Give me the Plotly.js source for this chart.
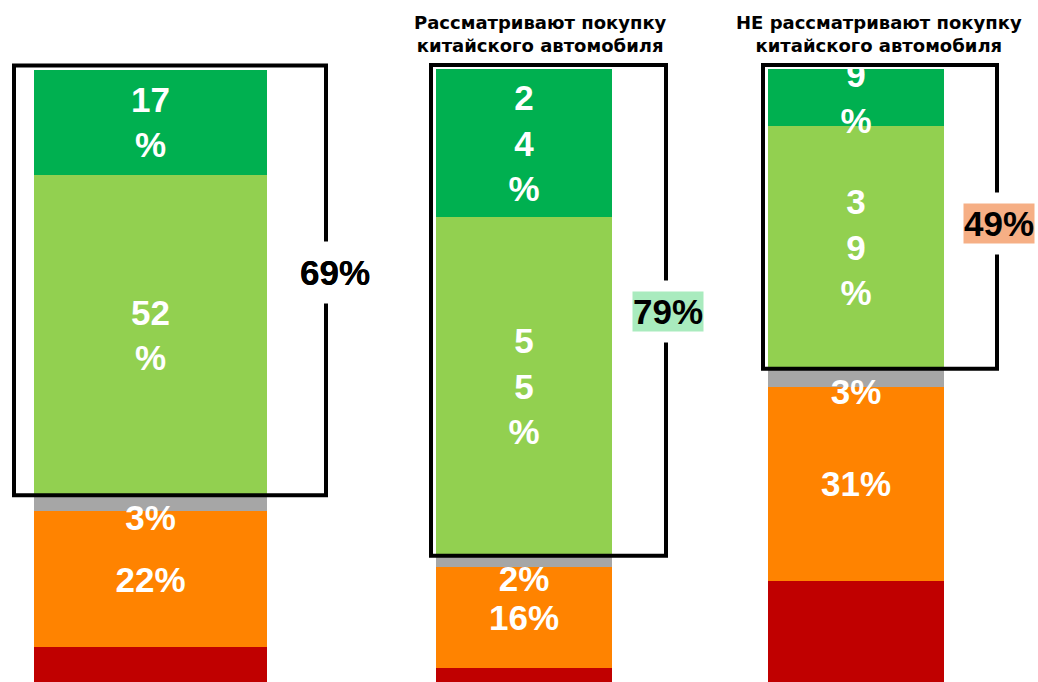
<!DOCTYPE html>
<html>
<head>
<meta charset="utf-8">
<script src="https://cdn.plot.ly/plotly-3.0.1.min.js"></script>
<style>html,body{margin:0;padding:0;background:#fff;}#chart{width:1038px;height:682px;}</style>
</head>
<body>
<div id="chart"></div>
<script>
// ---- data ----
const categories = ['Все', 'Рассматривают', 'НЕ рассматривают'];
const darkGreen = [17.0, 24.0, 9.2];
const lightGreen = [52.0, 54.9, 39.4];
const gray = [2.6, 1.8, 2.9];
const orange = [22.0, 16.4, 31.4];
const red = [6.3, 2.9, 17.1];
const darkGreenLabels = ['17<br>%', '2<br>4<br>%', '9<br>%'];
const lightGreenLabels = ['52<br>%', '5<br>5<br>%', '3<br>9<br>%'];
const grayLabels = ['3%', '2%', '3%'];
const orangeLabels = ['22%', '16%', '31%'];
const totalLabels = ['69%', '79%', '49%'];
const groupTitles = ['', 'Рассматривают покупку<br>китайского автомобиля', 'НЕ рассматривают покупку<br>китайского автомобиля'];

// ---- style ----
const FONT = 'Liberation Sans, Arial, sans-serif';
const TFONT = 'DejaVu Sans, Liberation Sans, Arial, sans-serif';
const barWidth = [0.6734, 0.5087, 0.5087];
const barOffset = [-0.4017, -0.2399, -0.2803];
const txt = {family: FONT, size: 35, color: '#ffffff', weight: 700};

function mk(y, color, text, anchor) {
  return {
    type: 'bar', x: categories, y: y, width: barWidth, offset: barOffset,
    marker: {color: color, line: {width: 0}},
    text: text, textposition: text ? 'inside' : 'none', textangle: 0,
    insidetextanchor: anchor || 'middle', constraintext: 'none',
    insidetextfont: txt, textfont: txt, hoverinfo: 'skip', showlegend: false
  };
}
const traces = [
  mk(red, '#C00000', null),
  mk(orange, '#FF8300', orangeLabels),
  mk(gray, '#A6A6A6', grayLabels, 'end'),
  mk(lightGreen, '#92D050', lightGreenLabels),
  mk(darkGreen, '#00B050', darkGreenLabels)
];

// boxes around the two green segments
const boxX = [[14, 326], [431, 666], [763, 997]];
const shapes = boxX.map((bx, i) => ({
  type: 'rect', xref: 'paper', yref: 'y',
  x0: bx[0] / 1038, x1: bx[1] / 1038,
  y0: red[i] + orange[i] + gray[i],
  y1: red[i] + orange[i] + gray[i] + lightGreen[i] + darkGreen[i] + 0.65,
  line: {color: '#000000', width: 4}, fillcolor: 'rgba(0,0,0,0)', layer: 'above'
}));

const labelPos = [[335, 272], [668, 311], [998.5, 224]];
const labelBg = ['rgba(0,0,0,0)', '#A9EBBE', '#F6AF85'];
const annotations = [];
totalLabels.forEach((t, i) => {
  annotations.push({
    xref: 'paper', yref: 'paper', x: labelPos[i][0] / 1038, y: 1 - labelPos[i][1] / 682,
    xanchor: 'center', yanchor: 'middle', showarrow: false, text: t,
    font: {family: FONT, size: 35, color: '#000000', weight: 700},
    bgcolor: '#ffffff', borderpad: 11
  });
  annotations.push({
    xref: 'paper', yref: 'paper', x: labelPos[i][0] / 1038, y: 1 - labelPos[i][1] / 682,
    xanchor: 'center', yanchor: 'middle', showarrow: false, text: t,
    font: {family: FONT, size: 35, color: '#000000', weight: 700},
    bgcolor: labelBg[i], borderpad: 0
  });
});
const titleX = [150, 540, 879];
groupTitles.forEach((t, i) => {
  if (!t) return;
  annotations.push({
    xref: 'paper', yref: 'paper', x: titleX[i] / 1038, y: 1 - 10 / 682,
    xanchor: 'center', yanchor: 'top', showarrow: false, text: t,
    font: {family: TFONT, size: 18, color: '#000000', weight: 700}
  });
});

const layout = {
  width: 1038, height: 682,
  margin: {l: 0, r: 0, t: 0, b: 0},
  paper_bgcolor: '#ffffff', plot_bgcolor: '#ffffff',
  barmode: 'stack',
  xaxis: {type: 'category', range: [-0.5, 2.5], visible: false, fixedrange: true},
  yaxis: {range: [0.65, 111.18], visible: false, fixedrange: true},
  shapes: shapes, annotations: annotations,
  font: {family: FONT}
};
Plotly.newPlot('chart', traces, layout, {staticPlot: true, displayModeBar: false});
</script>
</body>
</html>
